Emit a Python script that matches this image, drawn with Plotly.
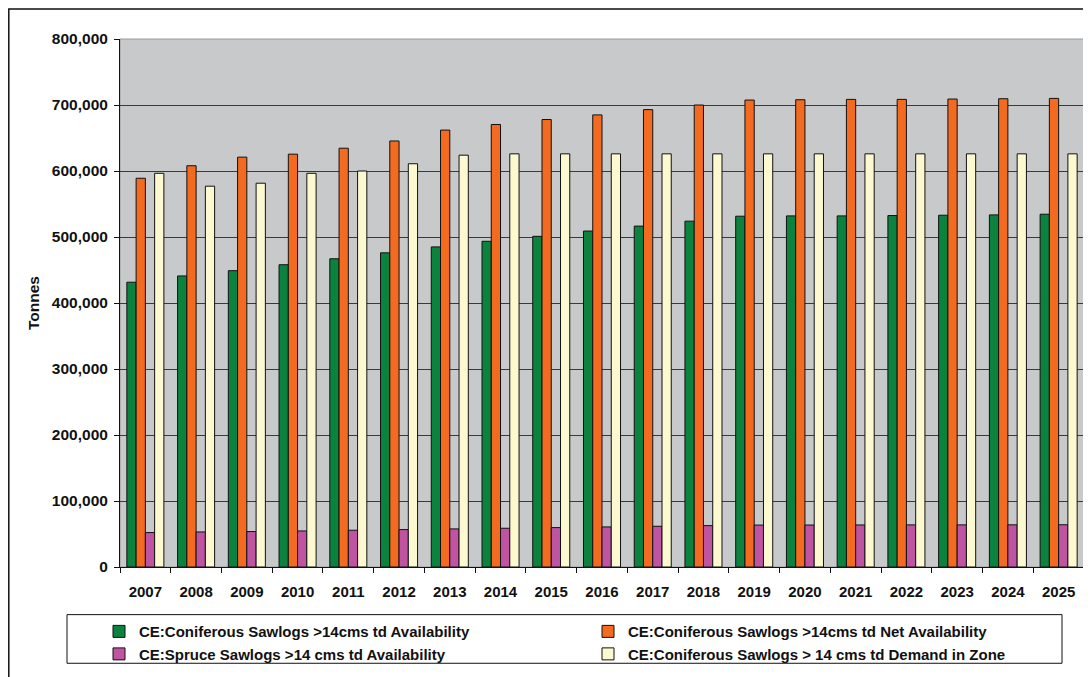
import plotly.graph_objects as go

years = [str(y) for y in range(2007, 2026)]
coniferous_avail = [431500, 441000, 449000, 458000, 467000, 476000, 485000, 493500, 501000, 509000,
                    516500, 524000, 531500, 532000, 532000, 532500, 533000, 533500, 534500]
coniferous_net = [589000, 608000, 621000, 625500, 634500, 645500, 662000, 670500, 678000, 685000,
                  693000, 700000, 707500, 708000, 708500, 708500, 709000, 709500, 710000]
spruce_avail = [52200, 53100, 53700, 54600, 55700, 56700, 57700, 58700, 59700, 60700,
                61700, 62700, 63500, 63600, 63700, 63800, 63800, 63900, 64000]
demand_zone = [596500, 577000, 581500, 596500, 600000, 611000, 624000, 626000, 626000, 626000,
               626000, 626000, 626000, 626000, 626000, 626000, 626000, 626000, 626000]

names = [
    "CE:Coniferous Sawlogs >14cms td Availability",
    "CE:Coniferous Sawlogs >14cms td Net Availability",
    "CE:Spruce Sawlogs >14 cms td Availability",
    "CE:Coniferous Sawlogs > 14 cms td Demand in Zone",
]
colors = ["#0B833F", "#F36A21", "#BF55A2", "#FCF8D0"]
series = [coniferous_avail, coniferous_net, spruce_avail, demand_zone]

# the page body has an 8px margin, so the figure is 8px smaller than the window
OFF = 8
W, H = 1091 - OFF, 677 - OFF
ML, MR, MT, MB = 112, 7, 31, 106
PW, PH = W - ML - MR, H - MT - MB


def px_x(sx):
    """screen x -> paper fraction"""
    return (sx - OFF - ML) / PW


def px_y(sy):
    """screen y -> paper fraction"""
    return (H - MB - (sy - OFF)) / PH


FONT = "Arial, Liberation Sans, Helvetica, sans-serif"

fig = go.Figure()
for name, col, vals in zip(names, colors, series):
    fig.add_trace(go.Bar(
        x=years, y=vals, name=name,
        marker=dict(color=col, line=dict(color="#111111", width=1)),
    ))

fig.update_layout(
    width=W, height=H,
    margin=dict(l=ML, r=MR, t=MT, b=MB),
    paper_bgcolor="white",
    plot_bgcolor="#C8C9CB",
    barmode="group",
    bargap=0.27,
    bargroupgap=0,
    font=dict(family=FONT, size=15, color="#111111", weight="bold"),
    showlegend=True,
    legend=dict(
        orientation="h",
        x=px_x(99), xanchor="left",
        y=px_y(619.5), yanchor="top",
        entrywidth=444, entrywidthmode="pixels",
        font=dict(family=FONT, size=15, color="#111111", weight="bold"),
        bgcolor="rgba(0,0,0,0)",
        borderwidth=0,
        traceorder="normal",
    ),
    xaxis=dict(
        type="category",
        showline=True, linecolor="#111111", linewidth=1,
        ticks="outside", ticklen=5, tickcolor="#111111",
        tickson="boundaries",
        ticklabelstandoff=11,
        showgrid=False,
        tickfont=dict(family=FONT, size=15, color="#111111", weight="bold"),
    ),
    yaxis=dict(
        range=[0, 800000], dtick=100000, tickformat=",d",
        showline=True, linecolor="#111111", linewidth=1,
        ticks="outside", ticklen=5, tickcolor="#111111",
        ticklabelstandoff=3,
        showgrid=True, gridcolor="#3a3a3a", gridwidth=1,
        zeroline=False,
        tickfont=dict(family=FONT, size=15.5, color="#111111", weight="bold"),
        title=dict(text="Tonnes", standoff=8,
                   font=dict(family=FONT, size=15.5, color="#111111", weight="bold")),
    ),
    shapes=[
        # plot-area border (top/right gray edge)
        dict(type="rect", xref="paper", yref="paper", x0=0, x1=1, y0=0, y1=1,
             line=dict(color="#9a9a9a", width=1), layer="below"),
        # legend box
        dict(type="rect", xref="paper", yref="paper",
             x0=px_x(67), x1=px_x(1062), y0=px_y(668), y1=px_y(619),
             line=dict(color="#111111", width=1)),
        # outer chart border
        dict(type="rect", xref="paper", yref="paper",
             x0=px_x(8.8), x1=px_x(1110), y0=px_y(700), y1=px_y(8.8),
             line=dict(color="#111111", width=1.5)),
    ],
)

fig.write_html("out.html")
